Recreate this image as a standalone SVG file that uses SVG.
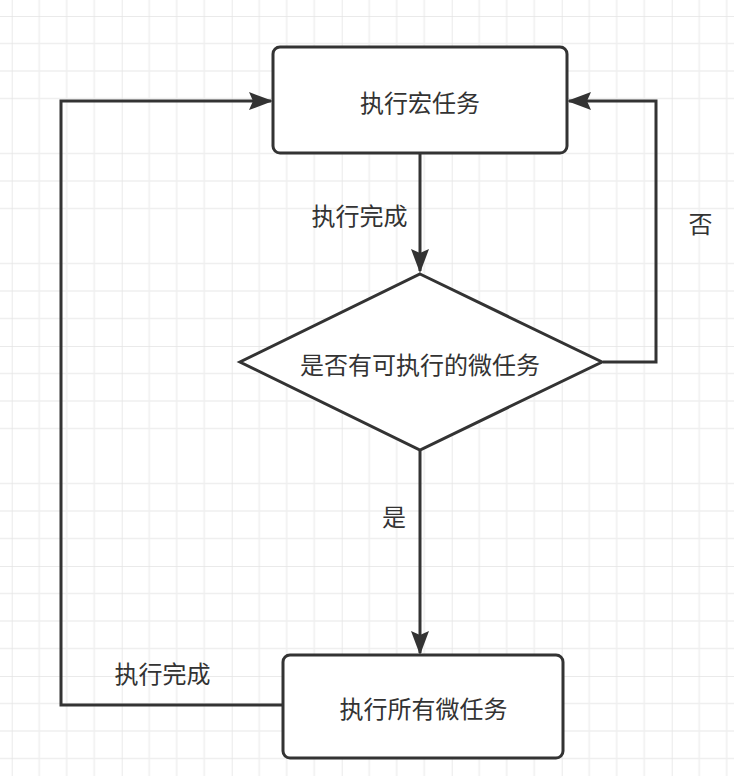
<svg xmlns="http://www.w3.org/2000/svg" width="734" height="776" viewBox="0 0 734 776">
  <style>
    .node { fill: #ffffff; stroke: #333333; stroke-width: 3; }
    .edge { fill: none; stroke: #333333; stroke-width: 3; }
    .label { font-family: "Noto Sans CJK SC", "Noto Sans", sans-serif; font-size: 24px; fill: #333333; text-anchor: middle; dominant-baseline: central; }
  </style>
  <defs>
    <pattern id="grid" patternUnits="userSpaceOnUse" x="11.7" y="16" width="110" height="110">
      <path d="M27.5 0V110M55 0V110M82.5 0V110M0 27.5H110M0 55H110M0 82.5H110" stroke="#efefef" stroke-width="1.5" fill="none"/>
      <path d="M0 0V110M0 0H110" stroke="#e4e4e4" stroke-width="1.5" fill="none"/>
    </pattern>
    <marker id="arrow" viewBox="0 0 24 18" refX="22" refY="9" markerWidth="24" markerHeight="18" markerUnits="userSpaceOnUse" orient="auto">
      <path d="M0 0L24 9L0 18L4 9Z" fill="#333333"/>
    </marker>
  </defs>
  <rect x="0" y="0" width="734" height="776" fill="#ffffff"/>
  <rect x="0" y="0" width="734" height="776" fill="url(#grid)"/>

  <g id="connectors">
    <path class="edge" d="M420 154V271" marker-end="url(#arrow)"/>
    <path class="edge" d="M420 451V653" marker-end="url(#arrow)"/>
    <path class="edge" d="M603 362H656V101H569" marker-end="url(#arrow)"/>
    <path class="edge" d="M283 705H61V101H271" marker-end="url(#arrow)"/>
    <text class="label" x="359.5" y="214">执行完成</text>
    <text class="label" x="394" y="515">是</text>
    <text class="label" x="700.5" y="222">否</text>
    <text class="label" x="162.5" y="672">执行完成</text>
  </g>

  <g id="macro-task">
    <rect class="node" x="273" y="47" width="294" height="106" rx="7"/>
    <text class="label" x="420" y="101">执行宏任务</text>
  </g>

  <g id="decision">
    <path class="node" d="M420 274L602 362L420 450L240 362Z"/>
    <text class="label" x="420" y="363">是否有可执行的微任务</text>
  </g>

  <g id="micro-tasks">
    <rect class="node" x="283" y="655" width="280" height="103" rx="7"/>
    <text class="label" x="423.5" y="707">执行所有微任务</text>
  </g>
</svg>
